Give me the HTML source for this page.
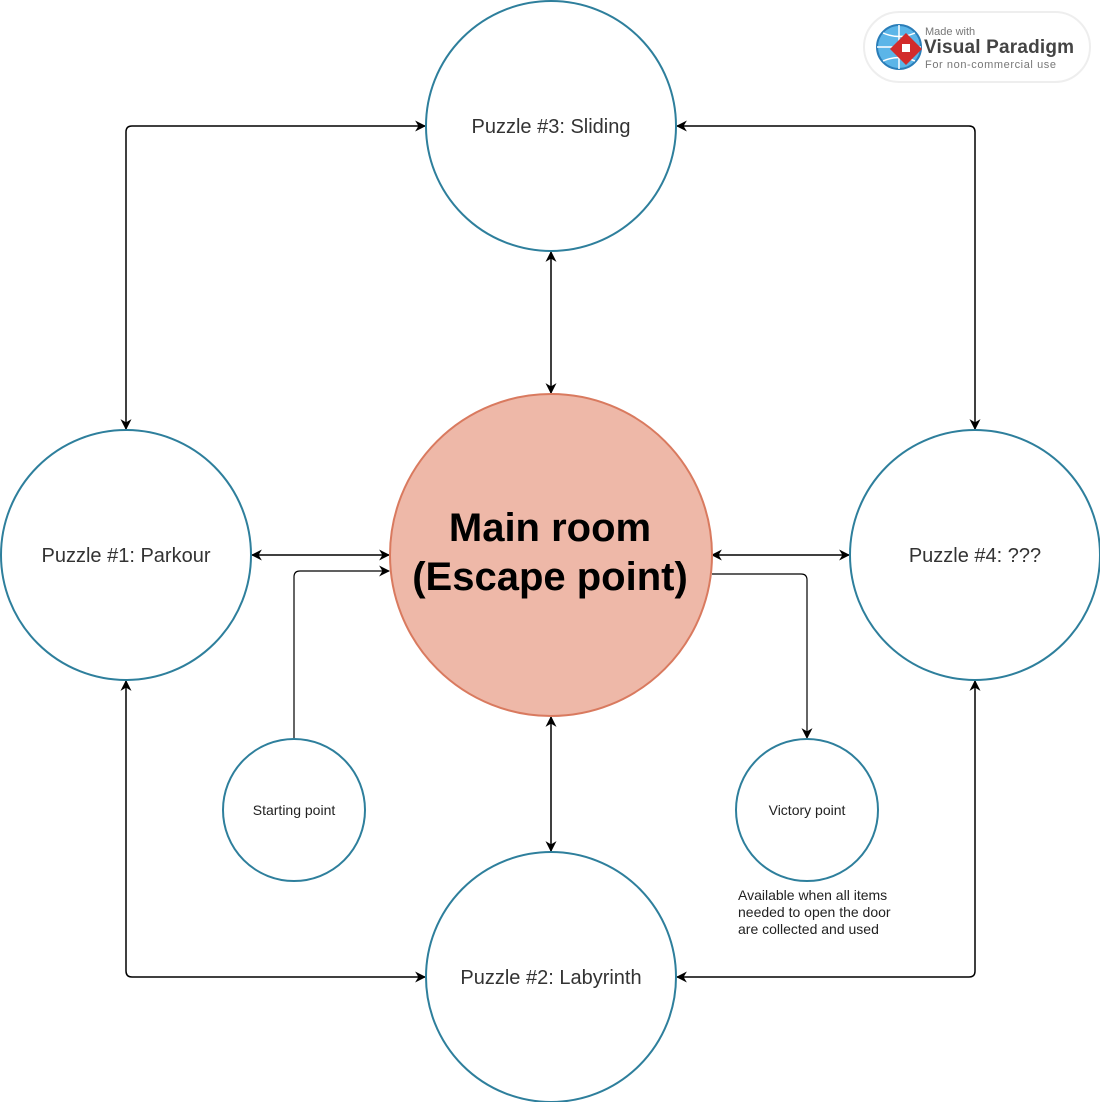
<!DOCTYPE html>
<html><head><meta charset="utf-8"><style>
html,body{margin:0;padding:0;background:#fff;}
svg{display:block;}
</style></head><body>
<svg width="1100" height="1102" viewBox="0 0 1100 1102" xmlns="http://www.w3.org/2000/svg">
<defs>
<marker id="a" viewBox="0 0 10 10" refX="9" refY="5" markerWidth="11" markerHeight="11" markerUnits="userSpaceOnUse" orient="auto-start-reverse">
<path d="M0,0 L10,5 L0,10 L3,5 Z" fill="#000"/>
</marker>
</defs>
<g fill="none" stroke="#000" stroke-width="1.5">
<path d="M126,429 V132 Q126,126 132,126 H425" marker-start="url(#a)" marker-end="url(#a)"/>
<path d="M677,126 H969 Q975,126 975,132 V429" marker-start="url(#a)" marker-end="url(#a)"/>
<path d="M126,681 V971 Q126,977 132,977 H425" marker-start="url(#a)" marker-end="url(#a)"/>
<path d="M677,977 H969 Q975,977 975,971 V681" marker-start="url(#a)" marker-end="url(#a)"/>
<path d="M551,252 V393" marker-start="url(#a)" marker-end="url(#a)"/>
<path d="M551,717 V851" marker-start="url(#a)" marker-end="url(#a)"/>
<path d="M252,555 H389" marker-start="url(#a)" marker-end="url(#a)"/>
<path d="M712,555 H849" marker-start="url(#a)" marker-end="url(#a)"/>
<path d="M294,739 V577 Q294,571 300,571 H389" marker-end="url(#a)" stroke-width="1.2"/>
<path d="M712,574 H801 Q807,574 807,580 V738" marker-end="url(#a)" stroke-width="1.2"/>
</g>
<g fill="#fff" stroke="#2E7F9C" stroke-width="2">
<circle cx="551" cy="126" r="125"/>
<circle cx="126" cy="555" r="125"/>
<circle cx="975" cy="555" r="125"/>
<circle cx="551" cy="977" r="125"/>
<circle cx="294" cy="810" r="71"/>
<circle cx="807" cy="810" r="71"/>
</g>
<circle cx="551" cy="555" r="161" fill="#EEB8A8" stroke="#D97A5F" stroke-width="2"/>
<g font-family="Liberation Sans, sans-serif" fill="#333" font-size="20" text-anchor="middle">
<text x="551" y="133">Puzzle #3: Sliding</text>
<text x="126" y="562">Puzzle #1: Parkour</text>
<text x="975" y="562">Puzzle #4: ???</text>
<text x="551" y="984">Puzzle #2: Labyrinth</text>
</g>
<g font-family="Liberation Sans, sans-serif" fill="#000" font-size="40" font-weight="bold" text-anchor="middle">
<text x="550" y="541">Main room</text>
<text x="550" y="590">(Escape point)</text>
</g>
<g font-family="Liberation Sans, sans-serif" fill="#222" font-size="14">
<text x="294" y="815" text-anchor="middle">Starting point</text>
<text x="807" y="815" text-anchor="middle">Victory point</text>
<text x="738" y="900">Available when all items</text>
<text x="738" y="917">needed to open the door</text>
<text x="738" y="934">are collected and used</text>
</g>
<g>
<rect x="864" y="12" width="226" height="70" rx="35" fill="#fff" stroke="#eee" stroke-width="2"/>
<circle cx="899" cy="47" r="22" fill="#5BB5E8" stroke="#2A7DB8" stroke-width="2"/>
<path d="M877,47 H921 M899,25 V69 M883,33 Q899,40 915,33 M883,61 Q899,54 915,61" stroke="#fff" stroke-width="1.5" fill="none"/>
<path d="M906,33 L922,49 L906,65 L890,49 Z" fill="#D22B2B"/>
<rect x="902" y="44" width="8" height="8" fill="#fff"/>
<text x="925" y="35" font-family="Liberation Sans, sans-serif" font-size="11" fill="#777">Made with</text>
<text x="924" y="53" font-family="Liberation Sans, sans-serif" font-size="19" font-weight="bold" fill="#444" textLength="150">Visual Paradigm</text>
<text x="925" y="68" font-family="Liberation Sans, sans-serif" font-size="11" fill="#777" textLength="131">For non-commercial use</text>
</g>
</svg>
</body></html>
